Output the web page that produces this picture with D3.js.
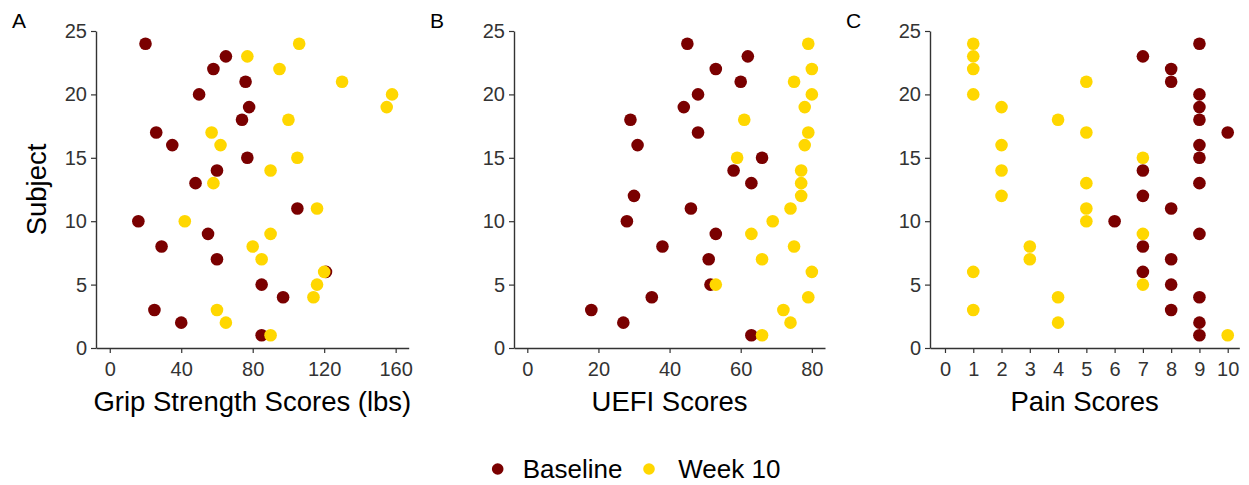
<!DOCTYPE html>
<html>
<head>
<meta charset="utf-8">
<script src="https://cdn.jsdelivr.net/npm/d3@7"></script>
<style>
  html, body { margin: 0; padding: 0; background: #fff; }
  svg { display: block; font-family: "Liberation Sans", Arial, sans-serif; }
</style>
</head>
<body>
<svg id="chart" width="1249" height="485"></svg>
<script>
// ---- Data ----
const subjects = d3.range(1, 25);
// Panel A: grip strength (lbs); null = not present
const gripBaseline = [85, 40, 25, 97, 85, 121, 60, 29, 55, 16, 105, null, 48, 60, 77, 35, 26, 74, 78, 50, 76, 58, 65, 20];
const gripWeek10   = [90, 65, 60, 114, 116, 120, 85, 80, 90, 42, 116, null, 58, 90, 105, 62, 57, 100, 155, 158, 130, 95, 77, 106];
// Panel B: UEFI scores
const uefiBaseline = [63, 27, 18, 35, 51.5, null, 51, 38, 53, 28, 46, 30, 63, 58, 66, 31, 48, 29, 44, 48, 60, 53, 62, 45];
const uefiWeek10   = [66, 74, 72, 79, 53, 80, 66, 75, 63, 69, 74, 77, 77, 77, 59, 78, 79, 61, 78, 80, 75, 80, null, 79];
// Panel C: pain scores
const painBaseline = [9, 9, 8, 9, 8, 7, 8, 7, 9, 6, 8, 7, 9, 7, 9, 9, 10, 9, 9, 9, 8, 8, 7, 9];
const painWeek10   = [10, 4, 1, 4, 7, 1, 3, 3, 7, 5, 5, 2, 5, 2, 7, 2, 5, 4, 2, 1, 5, 1, 1, 1];

const gripTicks = [0, 40, 80, 120, 160];
const uefiTicks = [0, 20, 40, 60, 80];
const painTicks = d3.range(0, 11);
const subjectTicks = [0, 5, 10, 15, 20, 25];
const seriesNames = ["Baseline", "Week 10"];
const seriesColors = ["#7a0000", "#ffd700"];

// ---- Layout ----
const svg = d3.select("#chart");
const FONT = "\"Liberation Sans\", Arial, sans-serif";
const axisCol = "#333333";
const y = d3.scaleLinear().domain([0, 25]).range([348, 31]);

const panels = [
  { letter: "A", lx: 12, title: "Grip Strength Scores (lbs)", base: gripBaseline, wk: gripWeek10, ticks: gripTicks,
    domain: [-7.7, 167.3], range: [96, 408.7], ylab: true },
  { letter: "B", lx: 430, title: "UEFI Scores", base: uefiBaseline, wk: uefiWeek10, ticks: uefiTicks,
    domain: [-3.74, 83.7], range: [514, 825], ylab: false },
  { letter: "C", lx: 846, title: "Pain Scores", base: painBaseline, wk: painWeek10, ticks: painTicks,
    domain: [-0.53, 10.41], range: [930, 1239.3], ylab: false }
];

panels.forEach(p => {
  const x = d3.scaleLinear().domain(p.domain).range(p.range);
  const g = svg.append("g");

  const xa = g.append("g").attr("transform", `translate(0,${y(0)})`)
    .call(d3.axisBottom(x).tickValues(p.ticks).tickSize(5).tickPadding(9).tickSizeOuter(0));
  const ya = g.append("g").attr("transform", `translate(${p.range[0]},0)`)
    .call(d3.axisLeft(y).tickValues(subjectTicks).tickSize(5).tickPadding(4).tickSizeOuter(0));
  [xa, ya].forEach(a => {
    a.select(".domain").attr("stroke", axisCol).attr("stroke-width", 1.4);
    a.selectAll(".tick line").attr("stroke", axisCol).attr("stroke-width", 1.2);
    a.selectAll(".tick text").attr("fill", "#333").style("font-size", "20px").style("font-family", FONT);
  });

  // points: baseline first, then week 10 on top
  [[p.base, 0], [p.wk, 1]].forEach(([vals, si]) => {
    const pts = subjects.map((s, i) => ({ s, v: vals[i] })).filter(d => d.v !== null);
    g.append("g").selectAll("circle").data(pts).join("circle")
      .attr("cx", d => x(d.v)).attr("cy", d => y(d.s)).attr("r", 6.3)
      .attr("fill", seriesColors[si]);
  });

  g.append("text").attr("x", (p.range[0] + p.range[1]) / 2).attr("y", 411)
    .attr("text-anchor", "middle").style("font-size", "27.5px").style("font-family", FONT)
    .attr("fill", "#000").text(p.title);

  g.append("text").attr("x", p.lx).attr("y", 28).style("font-size", "21px")
    .style("font-family", FONT).attr("fill", "#000").text(p.letter);

  if (p.ylab) {
    g.append("text").attr("transform", `translate(46,${(y(0) + y(25)) / 2}) rotate(-90)`)
      .attr("text-anchor", "middle").style("font-size", "27.5px").style("font-family", FONT)
      .attr("fill", "#000").text("Subject");
  }
});

// legend
const legendItems = [
  { name: seriesNames[0], color: seriesColors[0], cx: 497.7, tx: 522.7 },
  { name: seriesNames[1], color: seriesColors[1], cx: 649, tx: 678.3 }
];
const lg = svg.append("g");
legendItems.forEach(d => {
  lg.append("circle").attr("cx", d.cx).attr("cy", 469).attr("r", 5.8).attr("fill", d.color);
  lg.append("text").attr("x", d.tx).attr("y", 478).style("font-size", "26px")
    .style("font-family", FONT).attr("fill", "#000").text(d.name);
});
</script>
</body>
</html>
